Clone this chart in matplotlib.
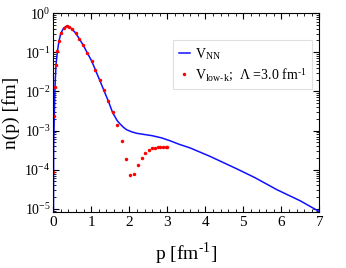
import matplotlib
matplotlib.use("Agg")
import matplotlib.pyplot as plt
from matplotlib.ticker import LogLocator, MultipleLocator, NullFormatter, LogFormatterMathtext

plt.rcParams["font.family"] = ["Liberation Serif", "DejaVu Serif"]
plt.rcParams["mathtext.fontset"] = "stix"

# V_NN momentum distribution
p_nn = [0.0, 0.01, 0.026, 0.045, 0.07, 0.11, 0.15, 0.20, 0.27, 0.35, 0.42, 0.49,
        0.59, 0.68, 0.79, 0.89, 1.01, 1.11, 1.22, 1.33, 1.45, 1.56, 1.68, 1.75,
        1.85, 1.93, 2.06, 2.2, 2.41, 2.6, 2.85, 3.07, 3.3, 3.6, 4.12, 4.83,
        5.3, 5.88, 6.5, 7.0]
n_nn = [1e-7, 4e-4, 2.3e-3, 0.013, 0.047, 0.107, 0.195, 0.31, 0.41, 0.47, 0.45, 0.39,
        0.31, 0.224, 0.151, 0.098, 0.060, 0.035, 0.0195, 0.0107, 5.6e-3, 2.9e-3, 1.8e-3, 1.5e-3,
        1.2e-3, 1.05e-3, 9.3e-4, 8.5e-4, 7.9e-4, 7.4e-4, 6.5e-4, 5.5e-4, 4.5e-4, 3.6e-4, 2.2e-4, 1.05e-4,
        6.3e-5, 3.1e-5, 1.6e-5, 8.5e-6]

# V_low-k, Lambda = 3.0 fm^-1
p_lowk = [0.0, 0.026, 0.045, 0.07, 0.11, 0.15, 0.20, 0.27, 0.35, 0.42, 0.49, 0.59,
          0.68, 0.79, 0.89, 1.01, 1.11, 1.22, 1.33, 1.45, 1.56, 1.68, 1.80, 1.91,
          2.03, 2.13, 2.24, 2.33, 2.42, 2.52, 2.61, 2.68, 2.75, 2.82, 2.89, 2.96, 3.0]
n_lowk = [8.5e-5, 2.3e-3, 0.013, 0.047, 0.107, 0.195, 0.31, 0.41, 0.47, 0.45, 0.39, 0.31,
          0.224, 0.151, 0.098, 0.060, 0.035, 0.0195, 0.0107, 5.6e-3, 2.9e-3, 1.35e-3, 5.5e-4, 1.86e-4,
          7.4e-5, 7.9e-5, 1.32e-4, 1.95e-4, 2.6e-4, 3.1e-4, 3.5e-4, 3.6e-4, 3.7e-4, 3.8e-4, 3.8e-4, 3.8e-4, 3.8e-4]

fig = plt.figure(figsize=(3.46, 2.68), dpi=100)
ax = fig.add_axes([0.154, 0.209, 0.769, 0.742])

ax.plot(p_nn, n_nn, color="#1010ff", lw=1.1, label=r"V$_{\mathregular{NN}}$")
ax.plot(p_lowk, n_lowk, ls="none", marker="o", ms=2.5, color="#ff0000", mec="none",
        label=r"V$_{\mathregular{low\text{-}k}}$;  Λ =3.0 fm$^{\mathregular{\text{-}1}}$")

ax.set_yscale("log")
ax.set_xlim(0, 7)
ax.set_ylim(10**-5.08, 1)
ax.xaxis.set_major_locator(MultipleLocator(1))
ax.xaxis.set_minor_locator(MultipleLocator(0.2))
ax.yaxis.set_major_locator(LogLocator(base=10, numticks=10))
ax.yaxis.set_minor_locator(LogLocator(base=10, subs=range(2, 10), numticks=10))
ax.yaxis.set_major_formatter(LogFormatterMathtext())
ax.yaxis.set_minor_formatter(NullFormatter())
ax.tick_params(which="both", direction="in", top=True, right=True, labelsize=11)
ax.tick_params(axis="y", labelsize=10, pad=2)
ax.tick_params(which="major", length=4, width=0.8)
ax.tick_params(which="minor", length=2, width=0.6)
ax.tick_params(axis="x", pad=3)

ax.set_xlabel(r"p [fm$^{\mathregular{\text{-}1}}$]", fontsize=14)
ax.set_ylabel("n(p) [fm]", fontsize=14)
ax.xaxis.set_label_coords(0.5, -0.145)
ax.yaxis.set_label_coords(-0.125, 0.5)

leg = ax.legend(loc="upper left", bbox_to_anchor=(0.45, 0.864), borderaxespad=0,
                fancybox=False, edgecolor="#d8d8d8", fontsize=10, handlelength=0.8,
                handletextpad=0.4, borderpad=0.4, labelspacing=0.35, numpoints=1)
leg.get_frame().set_linewidth(0.8)

fig.savefig("out.png", dpi=100)
